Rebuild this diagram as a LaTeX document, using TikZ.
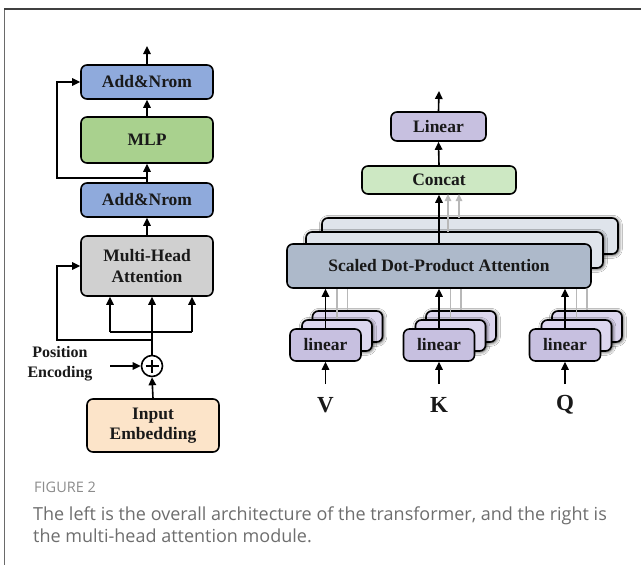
\documentclass[tikz,border=0pt]{standalone}
\usepackage{fontspec}
\setmainfont{Liberation Serif}
\newfontfamily\capfont{Open Sans}
\usetikzlibrary{arrows.meta,shadows.blur}

\definecolor{normblue}{HTML}{8FAADC}
\definecolor{mlpgreen}{HTML}{A9D18E}
\definecolor{mhagray}{HTML}{D0D0D0}
\definecolor{embpeach}{HTML}{FCE4C9}
\definecolor{linlav}{HTML}{C7C0E0}
\definecolor{linlavback}{HTML}{DCD6EE}
\definecolor{catgreen}{HTML}{CDE8C3}
\definecolor{sdpafront}{HTML}{ADB9CA}
\definecolor{sdpaback}{HTML}{DFE4EB}
\definecolor{capgray}{HTML}{6E6E6E}
\definecolor{figgray}{HTML}{8C8C8C}
\definecolor{framegray}{HTML}{6A6A6A}
\definecolor{ghost}{HTML}{B8B8B8}

\tikzset{
  blk/.style={draw=black, line width=1.6pt, rounded corners=6pt, inner sep=0pt,
    align=center, font=\bfseries\fontsize{17.5}{20.5}\selectfont, text=black!90},
  backblk/.style={blk, blur shadow={shadow xshift=0.8pt, shadow yshift=-0.8pt,
    shadow blur radius=3.5pt, shadow opacity=85}},
  arr/.style={line width=1.6pt, -{Triangle[length=8pt,width=7.5pt]}},
  wire/.style={line width=1.6pt},
  ghostarr/.style={line width=1.4pt, draw=ghost, -{Triangle[length=7pt,width=6.5pt]}, color=ghost},
  ghostline/.style={line width=1.4pt, draw=ghost},
  inlabel/.style={font=\bfseries\fontsize{23}{25}\selectfont, text=black!90, inner sep=0pt},
}

\begin{document}
\begin{tikzpicture}[x=1pt, y=-1pt]
\useasboundingbox (0,0) rectangle (641,565);
\fill[white] (0,0) rectangle (641,565);

% panel frame
\draw[framegray, line width=1pt] (4.5,565) -- (4.5,9);
\draw[black!75, line width=1.6pt] (4,9) -- (641,9);

% ---------- encoder block (left) ----------
\node[blk, fill=normblue, minimum width=132pt, minimum height=34pt] (addtop) at (147,82) {Add\&Nrom};
\node[blk, fill=mlpgreen, minimum width=132pt, minimum height=46pt] (mlp) at (147,140) {MLP};
\node[blk, fill=normblue, minimum width=132pt, minimum height=34pt] (addlow) at (147,200) {Add\&Nrom};
\node[blk, fill=mhagray, minimum width=132pt, minimum height=60pt] (mha) at (147,266) {Multi-Head\\Attention};
\node[blk, fill=embpeach, minimum width=132pt, minimum height=53pt] (emb) at (153,425.5) {Input\\Embedding};
\node[draw=black, line width=1.6pt, circle, minimum size=21pt, inner sep=0pt, fill=white] (plus) at (152,366) {};
\draw[line width=1.5pt] ([yshift=-6.5pt]plus.center) -- ([yshift=6.5pt]plus.center)
  ([xshift=-6.5pt]plus.center) -- ([xshift=6.5pt]plus.center);
\node[font=\bfseries\fontsize{16}{20}\selectfont, align=center, text=black!90, inner sep=0pt] (posenc) at (60,364) {Position\\Encoding};

\coordinate (outleft) at (147,46);
\coordinate (res1a) at (147,178);
\coordinate (res1b) at (57,178);
\coordinate (trunk) at (152,332);
\coordinate (busl) at (110,332);
\coordinate (busr) at (192,332);
\coordinate (res2a) at (152,340);
\coordinate (res2b) at (57,340);
\coordinate (pestart) at (110,366);

\draw[arr] (addtop.north) -- (outleft);
\draw[arr] (mlp.north) -- (addtop.south);
\draw[arr] (addlow.north) -- (mlp.south);
\draw[arr] (res1a) -- (res1b) |- (addtop.west);
\draw[arr] (mha.north) -- (addlow.south);
\draw[wire] (plus.north) -- (trunk);
\draw[wire] (busl) -- (busr);
\draw[arr] (busl) -- (busl |- mha.south);
\draw[arr] (trunk) -- (trunk |- mha.south);
\draw[arr] (busr) -- (busr |- mha.south);
\draw[arr] (res2a) -- (res2b) |- (mha.west);
\draw[arr] (pestart) -- (plus.west);
\draw[arr] (emb.north) -- (plus.south);

% ---------- multi-head attention (right) ----------
\node[blk, fill=linlav, minimum width=95pt, minimum height=29pt] (lin) at (438.5,126.5) {Linear};
\node[blk, fill=catgreen, minimum width=154pt, minimum height=28pt] (cat) at (439,180) {Concat};

\node[backblk, fill=sdpaback, minimum width=296pt, minimum height=36pt] (sdpa3) at (470,236) {};
\node[backblk, fill=sdpaback, minimum width=297pt, minimum height=36pt] (sdpa2) at (454.5,250) {};
\node[blk, fill=sdpafront, minimum width=304pt, minimum height=44pt] (sdpa) at (439,266) {Scaled Dot-Product Attention};

\coordinate (outright) at (439,91);
\draw[arr] (lin.north) -- (outright);
\draw[arr] (cat.north) -- (lin.south);
\draw[ghostarr] (448,232) -- (448,194);
\draw[ghostarr] (459,218) -- (459,194);
\draw[arr] (sdpa.north -| cat.south) -- (cat.south);

% projection heads for V, K, Q
\foreach \nm/\cx/\lab in {v/325.5/V, k/439/K, q/565/Q}{
  \node[backblk, fill=linlavback, minimum width=70pt, minimum height=31pt] (\nm3) at (\cx+22,326.5) {};
  \node[backblk, fill=linlavback, minimum width=70pt, minimum height=31pt] (\nm2) at (\cx+11.5,335.5) {};
  \node[blk, fill=linlav, minimum width=71pt, minimum height=32pt] (\nm1) at (\cx,345) {linear};
  \node[inlabel] (\nm in) at (\cx,405) {\lab};
  \coordinate (\nm src) at (\cx,384);
  \draw[ghostline] (\nm2.north) -- (\nm2.north |- sdpa.south);
  \draw[ghostline] (\nm3.north) -- (\nm3.north |- sdpa.south);
  \draw[arr] (\nm1.north) -- (\nm1.north |- sdpa.south);
  \draw[arr] (\nm src) -- (\nm1.south);
}

% ---------- caption ----------
\node[anchor=base west, inner sep=0pt, font=\capfont\fontsize{14.5}{16}\selectfont, text=figgray] (figlabel) at (34,492) {FIGURE 2};
\node[anchor=base west, inner sep=0pt, font=\capfont\fontsize{18}{22}\selectfont, text=capgray] (capl1) at (33,520) {The left is the overall architecture of the transformer, and the right is};
\node[anchor=base west, inner sep=0pt, font=\capfont\fontsize{18}{22}\selectfont, text=capgray] (capl2) at (33,542) {the multi-head attention module.};
\end{tikzpicture}
\end{document}
